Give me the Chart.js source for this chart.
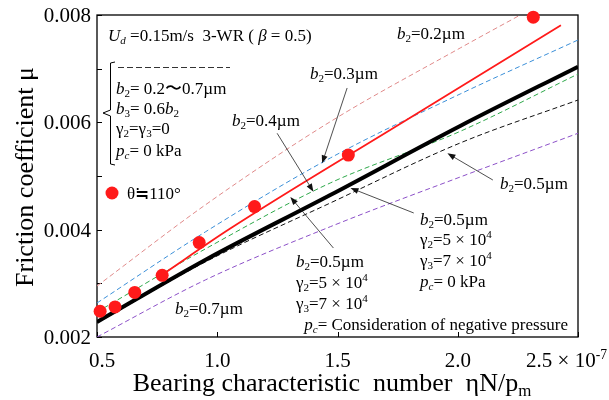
<!DOCTYPE html>
<html>
<head>
<meta charset="utf-8">
<script src="https://cdn.jsdelivr.net/npm/chart.js@4/dist/chart.umd.min.js"></script>
<style>
html, body { margin: 0; padding: 0; background: #fff; }
</style>
</head>
<body>
<canvas id="chart" width="609" height="400"></canvas>
<script>
// Axis ticks
const xTicks = [0.5, 1.0, 1.5, 2.0, 2.5];
const xTickLabels = ['0.5', '1.0', '1.5', '2.0', '2.5'];
const yTicks = [0.002, 0.004, 0.006, 0.008];
const yTickLabels = ['0.002', '0.004', '0.006', '0.008'];
const yMinorTicks = [0.003, 0.005, 0.007];

// Measured points (θ≒110°)
const expX = [0.513, 0.575, 0.657, 0.771, 0.925, 1.155, 1.545, 2.314];
const expY = [0.00248, 0.00256, 0.00283, 0.00315, 0.00376, 0.00443, 0.00539, 0.00796];

// Red solid line
const redX = [0.771, 1.054, 1.763, 2.429];
const redY = [0.00316, 0.00402, 0.00598, 0.00781];

// Calculated curves
const calcX = [0.5, 0.95, 1.47, 2.01, 2.5];
const thickY = [0.00228, 0.003435, 0.004646, 0.005932, 0.007037];   // b2=0.5, γ, negative pressure
const blueY = [0.002634, 0.003957, 0.005335, 0.006528, 0.007534];   // b2=0.3
const greenY = [0.002466, 0.00364, 0.00487, 0.005832, 0.0069];      // b2=0.4
const blackDashY = [0.002261, 0.003398, 0.004497, 0.005615, 0.006416]; // b2=0.5
const purpleY = [0.002, 0.003062, 0.004055, 0.004981, 0.005796];    // b2=0.7
const pinkX = [0.5, 0.95, 1.47, 2.01, 2.26];
const pinkY = [0.00295, 0.00446, 0.006012, 0.007385, 0.008];        // b2=0.2

// Arrows [tailX, tailY, tipX, tipY] in data units
const arrows = [
    [1.540, 0.00664, 1.436, 0.005237],
    [1.249, 0.005796, 1.400, 0.004707],
    [2.146, 0.004925, 1.957, 0.005423],
    [1.817, 0.004311, 1.554, 0.004776],
    [1.483, 0.003658, 1.304, 0.004609],
];

const FAM = '"Liberation Serif", "Times New Roman", serif';
const pts = (xs, ys) => xs.map((x, i) => ({ x: x, y: ys[i] }));

function curve(xs, ys, color, width, dash) {
    return {
        type: 'line', data: pts(xs, ys), borderColor: color, borderWidth: width,
        borderDash: dash || [], pointRadius: 0, fill: false,
        cubicInterpolationMode: 'monotone'
    };
}

// text with italic / subscript / superscript parts, y = visual centre
function rich(ctx, x, y, parts, size, align) {
    const segs = parts.map(p => {
        const f = p[1] || '';
        const small = f.includes('b') || f.includes('p');
        const s = small ? size * 0.65 : size;
        const font = (f.includes('i') ? 'italic ' : '') + s + 'px ' + FAM;
        ctx.font = font;
        const dy = f.includes('b') ? size * 0.22 : f.includes('p') ? -size * 0.38 : 0;
        return { t: p[0], font: font, w: ctx.measureText(p[0]).width, dy: dy };
    });
    const total = segs.reduce((a, s) => a + s.w, 0);
    let cx = align === 'right' ? x - total : align === 'center' ? x - total / 2 : x;
    const base = y + size * 0.33;
    ctx.textAlign = 'left';
    ctx.textBaseline = 'alphabetic';
    segs.forEach(s => {
        ctx.font = s.font;
        ctx.fillText(s.t, cx, base + s.dy);
        cx += s.w;
    });
}

function arrow(ctx, x1, y1, x2, y2) {
    const a = Math.atan2(y2 - y1, x2 - x1);
    ctx.beginPath();
    ctx.moveTo(x1, y1);
    ctx.lineTo(x2 - 5 * Math.cos(a), y2 - 5 * Math.sin(a));
    ctx.stroke();
    ctx.beginPath();
    ctx.moveTo(x2, y2);
    ctx.lineTo(x2 - 8 * Math.cos(a) + 3 * Math.sin(a), y2 - 8 * Math.sin(a) - 3 * Math.cos(a));
    ctx.lineTo(x2 - 8 * Math.cos(a) - 3 * Math.sin(a), y2 - 8 * Math.sin(a) + 3 * Math.cos(a));
    ctx.closePath();
    ctx.fill();
}

const frame = {
    id: 'frame',
    beforeDatasetsDraw(chart) {
        const ctx = chart.ctx, a = chart.chartArea;
        const xs = chart.scales.x, ys = chart.scales.y;
        ctx.save();
        ctx.strokeStyle = '#000';
        ctx.lineWidth = 1.3;
        ctx.strokeRect(a.left, a.top, a.right - a.left, a.bottom - a.top);
        ctx.lineWidth = 1;
        ctx.beginPath();
        yTicks.concat(yMinorTicks).forEach(v => {
            const py = Math.round(ys.getPixelForValue(v)) + 0.5;
            ctx.moveTo(a.left, py); ctx.lineTo(a.left + 5, py);
        });
        xTicks.forEach(v => {
            const px = Math.round(xs.getPixelForValue(v)) + 0.5;
            ctx.moveTo(px, a.bottom); ctx.lineTo(px, a.bottom - 5);
        });
        ctx.stroke();
        ctx.restore();
    },
    afterDraw(chart) {
        const ctx = chart.ctx, a = chart.chartArea;
        const xs = chart.scales.x, ys = chart.scales.y;
        ctx.save();
        ctx.fillStyle = '#000';

        // tick labels
        yTicks.forEach((v, i) => rich(ctx, 91, ys.getPixelForValue(v), [[yTickLabels[i]]], 21, 'right'));
        xTicks.forEach((v, i) => {
            const px = xs.getPixelForValue(v);
            if (i === 0) rich(ctx, px + 5, 360, [[xTickLabels[i]]], 21, 'center');
            else if (i === xTicks.length - 1) rich(ctx, 607, 360, [[xTickLabels[i] + ' × 10'], ['-7', 'p']], 21, 'right');
            else rich(ctx, px, 360, [[xTickLabels[i]]], 21, 'center');
        });

        // axis titles
        rich(ctx, 332, 382, [['Bearing characteristic  number  ηN/p'], ['m', 'b']], 26, 'center');
        ctx.save();
        ctx.translate(24, 177);
        ctx.rotate(-Math.PI / 2);
        rich(ctx, 0, 0, [['Friction coefficient μ']], 26, 'center');
        ctx.restore();

        // annotations
        const S = 17;
        rich(ctx, 108, 35, [['U', 'i'], ['d', 'bi'], [' =0.15m/s  3-WR ( '], ['β', 'i'], [' = 0.5)']], S);
        rich(ctx, 397, 33, [['b', 'i'], ['2', 'b'], ['=0.2µm']], S);
        rich(ctx, 310, 73, [['b', 'i'], ['2', 'b'], ['=0.3µm']], S);
        rich(ctx, 232, 120, [['b', 'i'], ['2', 'b'], ['=0.4µm']], S);
        rich(ctx, 500, 183, [['b', 'i'], ['2', 'b'], ['=0.5µm']], S);
        rich(ctx, 175, 308, [['b', 'i'], ['2', 'b'], ['=0.7µm']], S);

        rich(ctx, 420, 219, [['b', 'i'], ['2', 'b'], ['=0.5µm']], S);
        rich(ctx, 420, 239, [['γ'], ['2', 'b'], ['=5 × 10'], ['4', 'p']], S);
        rich(ctx, 420, 260, [['γ'], ['3', 'b'], ['=7 × 10'], ['4', 'p']], S);
        rich(ctx, 420, 281, [['p', 'i'], ['c', 'bi'], ['= 0 kPa']], S);

        rich(ctx, 296, 261, [['b', 'i'], ['2', 'b'], ['=0.5µm']], S);
        rich(ctx, 296, 282, [['γ'], ['2', 'b'], ['=5 × 10'], ['4', 'p']], S);
        rich(ctx, 296, 303, [['γ'], ['3', 'b'], ['=7 × 10'], ['4', 'p']], S);
        rich(ctx, 568, 324, [['p', 'i'], ['c', 'bi'], ['= Consideration of negative pressure']], S, 'right');

        // bracket block
        rich(ctx, 116, 88, [['b', 'i'], ['2', 'b'], ['= 0.2〜0.7µm']], S);
        rich(ctx, 116, 108, [['b', 'i'], ['3', 'b'], ['= 0.6'], ['b', 'i'], ['2', 'b']], S);
        rich(ctx, 116, 128, [['γ'], ['2', 'b'], ['=γ'], ['3', 'b'], ['=0']], S);
        rich(ctx, 116, 150, [['p', 'i'], ['c', 'bi'], ['= 0 kPa']], S);
        ctx.strokeStyle = '#000';
        ctx.lineWidth = 1;
        ctx.beginPath();
        ctx.moveTo(115, 62); ctx.lineTo(110.5, 63); ctx.lineTo(110.5, 110);
        ctx.lineTo(103, 113); ctx.lineTo(110.5, 116); ctx.lineTo(110.5, 164); ctx.lineTo(115, 165);
        ctx.stroke();
        ctx.strokeStyle = '#333';
        ctx.setLineDash([6, 3]);
        ctx.beginPath();
        ctx.moveTo(118, 67.5); ctx.lineTo(230, 67.5);
        ctx.stroke();
        ctx.setLineDash([]);

        // marker legend
        ctx.fillStyle = '#ff1a1a';
        ctx.beginPath();
        ctx.arc(112, 193, 6.5, 0, Math.PI * 2);
        ctx.fill();
        ctx.fillStyle = '#000';
        rich(ctx, 127, 193, [['θ≒110°']], S);

        // arrows
        ctx.strokeStyle = '#222';
        ctx.fillStyle = '#111';
        ctx.lineWidth = 0.8;
        arrows.forEach(r => arrow(ctx, xs.getPixelForValue(r[0]), ys.getPixelForValue(r[1]),
            xs.getPixelForValue(r[2]), ys.getPixelForValue(r[3])));
        ctx.restore();
    }
};

const ctx = document.getElementById('chart').getContext('2d');
const frictionChart = new Chart(ctx, {
    type: 'line',
    data: {
        datasets: [
            {
                type: 'scatter', data: pts(expX, expY), pointRadius: 6.5,
                backgroundColor: '#ff1a1a', borderWidth: 0, showLine: false, clip: false
            },
            curve(redX, redY, '#ff1a1a', 1.8),
            curve(calcX, thickY, '#000', 4),
            curve(calcX, blackDashY, '#111', 1, [5, 3]),
            curve(calcX, greenY, '#2ea84a', 1, [5, 3]),
            curve(calcX, blueY, '#3b8fd8', 1, [5, 3]),
            curve(calcX, purpleY, '#8c50c8', 1, [5, 3]),
            curve(pinkX, pinkY, '#e08a8a', 1, [5, 3]),
        ]
    },
    options: {
        responsive: false,
        animation: false,
        devicePixelRatio: 1,
        layout: { padding: { left: 97, right: 31, top: 15, bottom: 63 } },
        plugins: { legend: { display: false }, tooltip: { enabled: false } },
        scales: {
            x: { type: 'linear', min: 0.5, max: 2.5, display: false },
            y: { type: 'linear', min: 0.002, max: 0.008, display: false }
        }
    },
    plugins: [frame]
});
</script>
</body>
</html>
